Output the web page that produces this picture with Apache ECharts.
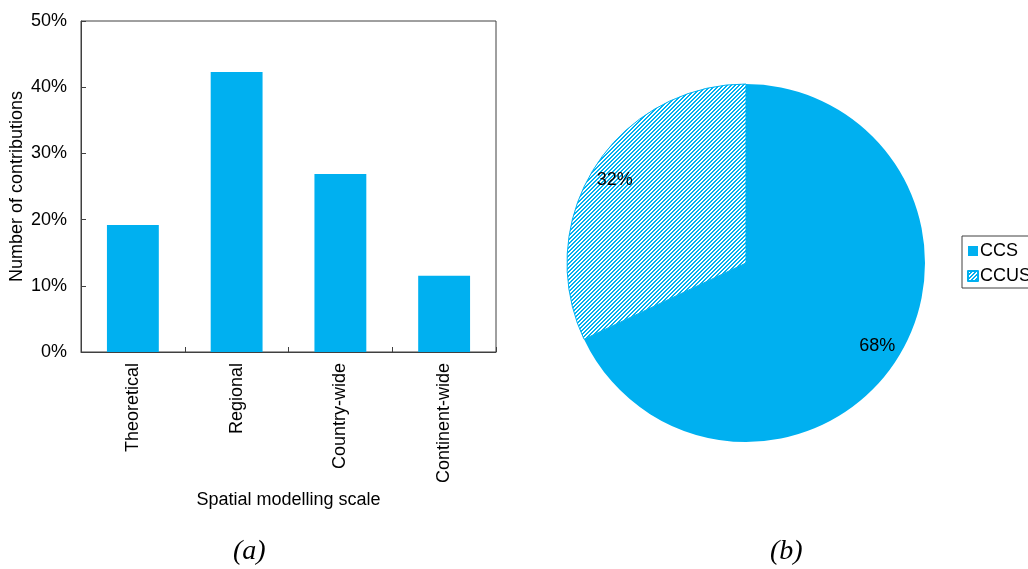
<!DOCTYPE html>
<html>
<head>
<meta charset="utf-8">
<script src="https://cdn.jsdelivr.net/npm/echarts@6/dist/echarts.min.js"></script>
<style>
  html, body { margin: 0; padding: 0; background: #fff; }
  #chart { width: 1028px; height: 569px; }
</style>
</head>
<body>
<div id="chart"></div>
<script>
// (a) share of contributions per spatial modelling scale, in percent
const scaleCategories = ['Theoretical', 'Regional', 'Country-wide', 'Continent-wide'];
const scaleShares = [19.2, 42.3, 26.9, 11.5];

// (b) split between CCS and CCUS, in percent
const techNames = ['CCS', 'CCUS'];
const techShares = [68, 32];

const BLUE = '#00B0F0';
const FONT = '"Liberation Sans", Arial, sans-serif';
const FS = 18;

// pixel-exact diagonal hatch tile (rising to the right) for the CCUS slice
function hatchPattern() {
  const s = 4;
  const c = document.createElement('canvas');
  c.width = s; c.height = s;
  const g = c.getContext('2d');
  g.fillStyle = '#fff';
  g.fillRect(0, 0, s, s);
  g.fillStyle = BLUE;
  for (let y = 0; y < s; y++) {
    const x0 = (s - 1 - y);
    g.fillRect(x0, y, 1, 1);
    g.fillRect((x0 + 1) % s, y, 1, 1);
  }
  return { image: c, repeat: 'repeat' };
}
const hatch = hatchPattern();

const pieData = techNames.map((name, i) => ({
  name,
  value: techShares[i],
  itemStyle: i === 0
    ? { color: BLUE }
    : { color: hatch, borderColor: BLUE, borderWidth: 1 }
}));

const chart = echarts.init(document.getElementById('chart'), null, { renderer: 'canvas' });

chart.setOption({
  animation: false,
  backgroundColor: '#fff',
  textStyle: { fontFamily: FONT, color: '#000' },
  grid: {
    left: 81, top: 21, width: 415, height: 331,
    show: true, borderColor: '#404040', borderWidth: 1,
    containLabel: false,
    outerBoundsMode: 'none'
  },
  xAxis: {
    type: 'category',
    data: scaleCategories,
    name: 'Spatial modelling scale',
    nameLocation: 'middle',
    nameGap: 134,
    nameTextStyle: { fontSize: FS, fontFamily: FONT, color: '#000' },
    axisLine: { show: true, lineStyle: { color: '#404040', width: 1 } },
    axisTick: { show: true, inside: true, length: 5, lineStyle: { color: '#404040' } },
    axisLabel: { rotate: 90, fontSize: FS, fontFamily: FONT, color: '#000', margin: 11 },
    splitLine: { show: false }
  },
  yAxis: {
    type: 'value',
    min: 0, max: 50, interval: 10,
    name: 'Number of contributions',
    nameLocation: 'middle',
    nameGap: 55,
    nameTextStyle: { fontSize: FS, fontFamily: FONT, color: '#000' },
    axisLine: { show: true, lineStyle: { color: '#404040', width: 1 } },
    axisTick: { show: true, inside: true, length: 5, lineStyle: { color: '#404040' } },
    axisLabel: { formatter: '{value}%', fontSize: FS, fontFamily: FONT, color: '#000', margin: 14 },
    splitLine: { show: false }
  },
  legend: {
    orient: 'vertical',
    left: 962, top: 236,
    data: techNames,
    icon: 'rect',
    itemWidth: 10, itemHeight: 10,
    itemGap: 7,
    padding: [6, 30, 3, 5],
    borderColor: '#404040', borderWidth: 1,
    textStyle: { fontSize: FS, fontFamily: FONT, color: '#000', padding: [0, 0, 0, -3] }
  },
  series: [
    {
      type: 'bar',
      data: scaleShares,
      barWidth: '50%',
      itemStyle: { color: BLUE },
      silent: true
    },
    {
      name: 'tech',
      type: 'pie',
      center: [746, 263],
      radius: 179,
      startAngle: 90,
      clockwise: true,
      data: pieData,
      label: { show: false },
      labelLine: { show: false },
      silent: true
    },
    {
      // label ring: transparent slices that only place the percentages near the rim
      name: 'tech-labels',
      type: 'pie',
      center: [746, 263],
      radius: [126, 179],
      startAngle: 90,
      clockwise: true,
      data: techShares.map((v, i) => ({ name: techNames[i], value: v })),
      itemStyle: { color: 'rgba(0,0,0,0)', borderWidth: 0 },
      label: {
        show: true, position: 'inside', formatter: '{c}%',
        fontSize: FS, fontFamily: FONT, color: '#000'
      },
      labelLine: { show: false },
      silent: true,
      legendHoverLink: false
    }
  ],
  graphic: [
    {
      type: 'text', left: 233, top: 538,
      style: { text: '(a)', font: 'italic 28px "Liberation Serif", "DejaVu Serif", serif', fill: '#000' }
    },
    {
      type: 'text', left: 770, top: 538,
      style: { text: '(b)', font: 'italic 28px "Liberation Serif", "DejaVu Serif", serif', fill: '#000' }
    }
  ]
});
</script>
</body>
</html>
